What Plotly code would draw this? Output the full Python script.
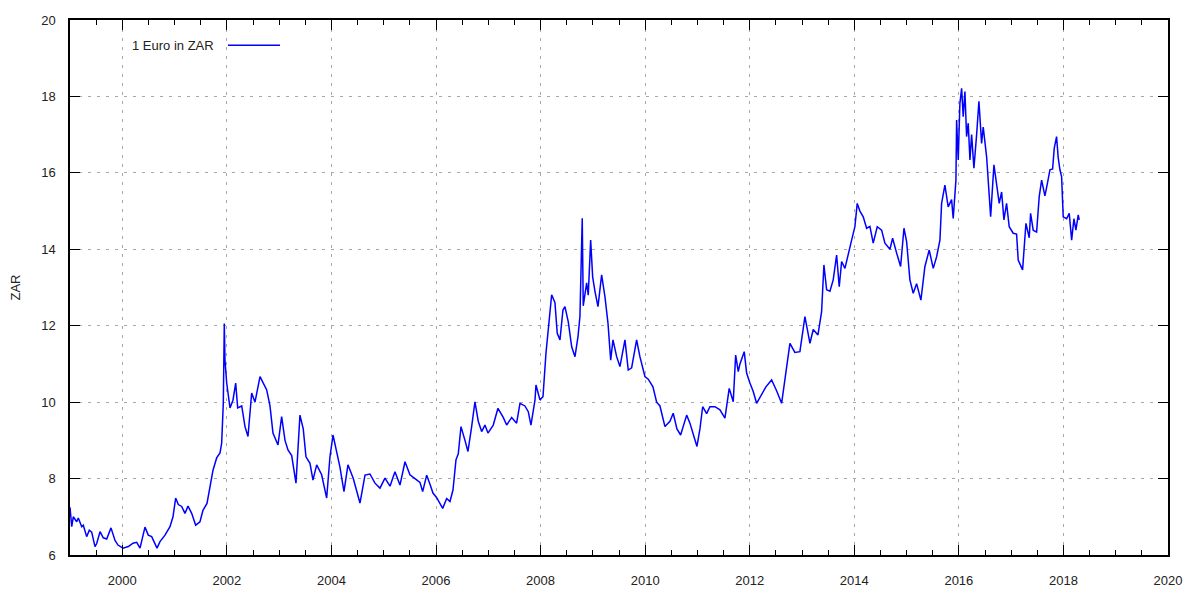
import plotly.graph_objects as go

# Decimal year of each reading
years = [
    1999.000, 1999.033, 1999.063, 1999.128, 1999.159, 1999.224, 1999.254, 1999.319, 1999.369, 1999.415,
    1999.478, 1999.511, 1999.574, 1999.637, 1999.702, 1999.784, 1999.861, 1999.918, 2000.014, 2000.115,
    2000.205, 2000.276, 2000.339, 2000.434, 2000.497, 2000.562, 2000.664, 2000.721, 2000.817, 2000.912,
    2000.970, 2001.021, 2001.071, 2001.136, 2001.199, 2001.257, 2001.327, 2001.404, 2001.486, 2001.543,
    2001.620, 2001.691, 2001.735, 2001.805, 2001.869, 2001.901, 2001.932, 2001.951, 2001.964, 2001.997,
    2002.022, 2002.060, 2002.117, 2002.169, 2002.207, 2002.284, 2002.347, 2002.404, 2002.475, 2002.538,
    2002.634, 2002.697, 2002.762, 2002.825, 2002.882, 2002.978, 2003.048, 2003.112, 2003.169, 2003.240,
    2003.322, 2003.398, 2003.461, 2003.513, 2003.590, 2003.647, 2003.718, 2003.813, 2003.909, 2003.972,
    2004.030, 2004.100, 2004.163, 2004.240, 2004.316, 2004.418, 2004.546, 2004.642, 2004.737, 2004.833,
    2004.928, 2005.024, 2005.120, 2005.215, 2005.311, 2005.407, 2005.502, 2005.598, 2005.693, 2005.745,
    2005.822, 2005.885, 2005.942, 2006.013, 2006.128, 2006.204, 2006.267, 2006.325, 2006.382, 2006.426,
    2006.478, 2006.554, 2006.611, 2006.682, 2006.745, 2006.808, 2006.873, 2006.936, 2006.994, 2007.095,
    2007.185, 2007.286, 2007.351, 2007.447, 2007.542, 2007.606, 2007.701, 2007.765, 2007.816, 2007.893,
    2007.912, 2007.988, 2008.046, 2008.103, 2008.179, 2008.212, 2008.275, 2008.319, 2008.371, 2008.428,
    2008.466, 2008.530, 2008.595, 2008.658, 2008.715, 2008.753, 2008.797, 2008.816, 2008.881, 2008.912,
    2008.958, 2008.996, 2009.040, 2009.098, 2009.168, 2009.231, 2009.289, 2009.341, 2009.385, 2009.455,
    2009.518, 2009.614, 2009.677, 2009.742, 2009.837, 2009.900, 2009.996, 2010.059, 2010.149, 2010.220,
    2010.283, 2010.379, 2010.474, 2010.537, 2010.608, 2010.679, 2010.794, 2010.857, 2010.933, 2010.991,
    2011.048, 2011.100, 2011.176, 2011.239, 2011.335, 2011.431, 2011.526, 2011.608, 2011.685, 2011.731,
    2011.781, 2011.813, 2011.895, 2011.941, 2012.004, 2012.067, 2012.132, 2012.228, 2012.310, 2012.419,
    2012.514, 2012.610, 2012.673, 2012.769, 2012.864, 2012.960, 2013.056, 2013.152, 2013.215, 2013.305,
    2013.375, 2013.419, 2013.471, 2013.534, 2013.597, 2013.662, 2013.712, 2013.758, 2013.821, 2013.884,
    2013.949, 2014.012, 2014.056, 2014.108, 2014.171, 2014.236, 2014.299, 2014.362, 2014.439, 2014.523,
    2014.586, 2014.682, 2014.733, 2014.810, 2014.886, 2014.950, 2015.001, 2015.064, 2015.127, 2015.192,
    2015.274, 2015.351, 2015.433, 2015.510, 2015.574, 2015.638, 2015.670, 2015.733, 2015.796, 2015.861,
    2015.892, 2015.944, 2015.957, 2015.988, 2016.020, 2016.053, 2016.083, 2016.116, 2016.148, 2016.179,
    2016.212, 2016.244, 2016.288, 2016.340, 2016.384, 2016.435, 2016.466, 2016.531, 2016.562, 2016.608,
    2016.671, 2016.722, 2016.772, 2016.818, 2016.862, 2016.913, 2016.963, 2017.040, 2017.104, 2017.135,
    2017.219, 2017.283, 2017.346, 2017.372, 2017.422, 2017.487, 2017.537, 2017.583, 2017.646, 2017.690,
    2017.742, 2017.793, 2017.824, 2017.869, 2017.900, 2017.933, 2017.965, 2017.996, 2018.061, 2018.111,
    2018.157, 2018.201, 2018.239, 2018.283, 2018.302,
]

# 1 Euro in ZAR
zar = [
    7.25, 6.74, 7.00, 6.87, 6.97, 6.74, 6.78, 6.48, 6.65, 6.60,
    6.22, 6.30, 6.61, 6.45, 6.42, 6.71, 6.38, 6.26, 6.18, 6.22,
    6.31, 6.33, 6.18, 6.73, 6.52, 6.48, 6.18, 6.35, 6.52, 6.74,
    7.00, 7.49, 7.32, 7.27, 7.09, 7.28, 7.09, 6.78, 6.87, 7.17,
    7.35, 7.96, 8.22, 8.54, 8.67, 8.93, 9.97, 12.06, 11.10, 10.50,
    10.24, 9.85, 10.05, 10.50, 9.85, 9.90, 9.36, 9.10, 10.24, 10.00,
    10.67, 10.50, 10.32, 9.90, 9.19, 8.88, 9.62, 9.00, 8.75, 8.60,
    7.88, 9.66, 9.30, 8.57, 8.40, 7.96, 8.36, 8.10, 7.49, 8.57,
    9.14, 8.70, 8.30, 7.66, 8.36, 8.00, 7.36, 8.09, 8.12, 7.88,
    7.75, 8.01, 7.80, 8.18, 7.83, 8.44, 8.10, 8.00, 7.90, 7.66,
    8.09, 7.85, 7.62, 7.50, 7.22, 7.48, 7.40, 7.70, 8.49, 8.65,
    9.36, 9.00, 8.71, 9.36, 10.01, 9.50, 9.23, 9.40, 9.19, 9.40,
    9.84, 9.60, 9.40, 9.60, 9.45, 9.97, 9.90, 9.75, 9.40, 10.05,
    10.45, 10.06, 10.14, 11.28, 12.24, 12.81, 12.60, 11.80, 11.63, 12.41,
    12.50, 12.10, 11.45, 11.19, 11.71, 12.24, 14.81, 12.52, 13.12, 12.80,
    14.24, 13.28, 12.90, 12.50, 13.33, 12.76, 12.07, 11.10, 11.63, 11.19,
    10.93, 11.63, 10.84, 10.90, 11.63, 11.19, 10.67, 10.60, 10.40, 10.00,
    9.90, 9.36, 9.50, 9.71, 9.30, 9.14, 9.66, 9.45, 9.10, 8.84,
    9.30, 9.88, 9.70, 9.88, 9.88, 9.80, 9.58, 10.36, 10.01, 11.23,
    10.80, 11.00, 11.32, 10.76, 10.50, 10.28, 9.97, 10.20, 10.40, 10.58,
    10.30, 9.97, 10.54, 11.54, 11.30, 11.32, 12.24, 11.54, 11.90, 11.76,
    12.37, 13.59, 12.94, 12.90, 13.20, 13.85, 13.02, 13.68, 13.50, 13.89,
    14.24, 14.59, 15.20, 15.00, 14.85, 14.55, 14.60, 14.16, 14.59, 14.50,
    14.16, 14.00, 14.29, 13.90, 13.55, 14.55, 14.20, 13.20, 12.85, 13.10,
    12.67, 13.55, 13.98, 13.50, 13.80, 14.24, 15.20, 15.68, 15.11, 15.30,
    14.81, 15.81, 17.38, 16.34, 17.82, 18.21, 17.47, 18.13, 16.95, 17.30,
    16.34, 17.00, 16.12, 17.00, 17.87, 16.77, 17.20, 16.42, 15.81, 14.85,
    16.21, 15.70, 15.20, 15.50, 14.77, 15.20, 14.59, 14.42, 14.40, 13.72,
    13.46, 14.68, 14.30, 14.94, 14.50, 14.45, 15.38, 15.81, 15.40, 15.70,
    16.08, 16.10, 16.64, 16.95, 16.40, 16.08, 15.90, 14.85, 14.80, 14.94,
    14.24, 14.80, 14.50, 14.90, 14.77,
]

series_name = "1 Euro in ZAR"
y_title = "ZAR"

FONT = "Liberation Sans, Arial, sans-serif"
BLUE = "#0000ff"

fig = go.Figure()
fig.add_trace(go.Scatter(
    x=years, y=zar, mode="lines", name=series_name,
    line=dict(color=BLUE, width=1.5),
    showlegend=False,
))

axis_common = dict(
    showline=True, linecolor="black", linewidth=1.5, mirror="ticks",
    ticks="inside", ticklen=10, tickwidth=1.2, tickcolor="black",
    showgrid=True, gridcolor="#a8a8a8", gridwidth=1, griddash="3px,6px",
    zeroline=False,
    tickfont=dict(family=FONT, size=13, color="#222"),
)

fig.update_xaxes(
    range=[1999, 2020], tick0=2000, dtick=2, **axis_common,
    minor=dict(dtick=0.5, tick0=1999, ticks="inside", ticklen=5,
               tickwidth=1.2, tickcolor="black", showgrid=False),
    ticklabelstandoff=13,
)
fig.update_yaxes(
    range=[6, 20], tick0=6, dtick=2, **axis_common,
    ticklabelstandoff=10,
    title=dict(text=y_title, font=dict(family=FONT, size=13, color="#222"), standoff=18),
)

# gnuplot-style key: text then sample line
fig.add_annotation(
    x=0.133, y=0.953, xref="paper", yref="paper", xanchor="right", yanchor="middle",
    text=series_name, showarrow=False,
    font=dict(family=FONT, size=13, color="#222"),
)
fig.add_shape(
    type="line", xref="paper", yref="paper",
    x0=0.1439, x1=0.1913, y0=0.953, y1=0.953,
    line=dict(color=BLUE, width=1.5),
)

fig.update_layout(
    width=1184, height=584,
    margin=dict(l=62, r=24, t=12, b=37, autoexpand=False),
    paper_bgcolor="white", plot_bgcolor="white",
    font=dict(family=FONT, size=13, color="#222"),
)

fig.write_html("out.html")
